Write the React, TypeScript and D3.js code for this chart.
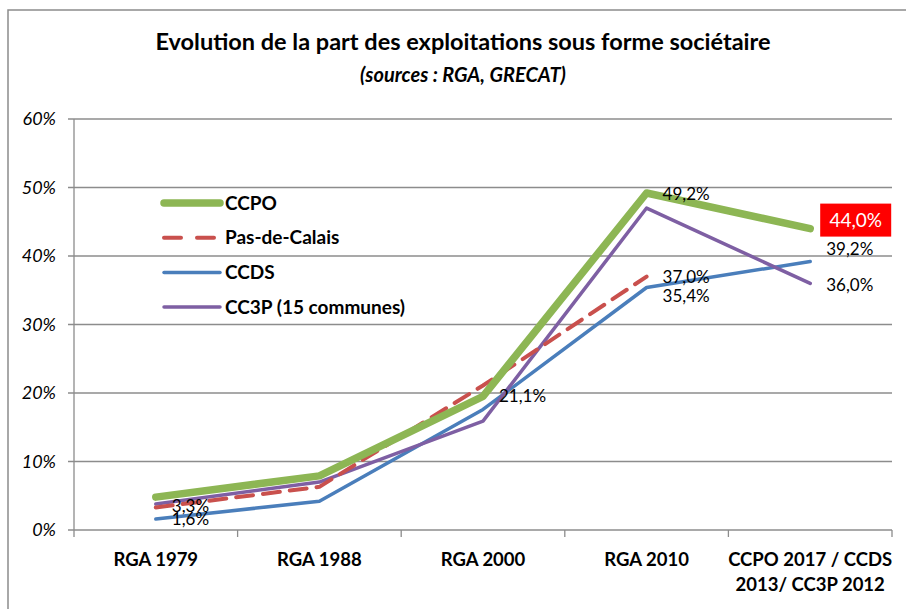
import React from "react";
import * as d3 from "d3";

const categories = ["RGA 1979", "RGA 1988", "RGA 2000", "RGA 2010", "CCPO 2017 / CCDS|2013/ CC3P 2012"];
const ccpo = [4.8, 7.9, 19.5, 49.2, 44.0];
const pasDeCalais = [3.3, 6.3, 21.1, 37.0, null];
const ccds = [1.6, 4.2, 17.6, 35.4, 39.2];
const cc3p = [3.8, 7.0, 15.9, 47.0, 36.0];
const yTicks = [0, 10, 20, 30, 40, 50, 60];

const seriesNames = ["CCPO", "Pas-de-Calais", "CCDS", "CC3P (15 communes)"];

type Lbl = { s: number; i: number; text: string; dx: number; dy: number; box?: boolean };
const labels: Lbl[] = [
  { s: 1, i: 0, text: "3,3%", dx: 16, dy: -1 },
  { s: 2, i: 0, text: "1,6%", dx: 16, dy: 0 },
  { s: 1, i: 2, text: "21,1%", dx: 16, dy: 11 },
  { s: 0, i: 3, text: "49,2%", dx: 16, dy: 1 },
  { s: 1, i: 3, text: "37,0%", dx: 16, dy: 0 },
  { s: 2, i: 3, text: "35,4%", dx: 16, dy: 8 },
  { s: 0, i: 4, text: "44,0%", dx: 13, dy: -8, box: true },
  { s: 2, i: 4, text: "39,2%", dx: 16, dy: -12 },
  { s: 3, i: 4, text: "36,0%", dx: 16, dy: 2 },
];

const W = 906, H = 609;
const left = 74, right = 892, top = 119, bottom = 530;

export default function App() {
  const data = [ccpo, pasDeCalais, ccds, cc3p];
  const x = d3.scaleBand<string>().domain(categories).range([left, right]);
  const y = d3.scaleLinear().domain([0, 60]).range([bottom, top]);
  const cx = (i: number) => (x(categories[i]) as number) + x.bandwidth() / 2;
  const line = d3
    .line<number | null>()
    .defined((d) => d !== null)
    .x((_, i) => cx(i))
    .y((d) => y(d as number));

  const styles = [
    { color: "#8DB654", width: 7.5, dash: "" },
    { color: "#C9504D", width: 4, dash: "17,10" },
    { color: "#4A7EBB", width: 3.5, dash: "" },
    { color: "#7E5FA3", width: 3.5, dash: "" },
  ];
  const drawOrder = [2, 3, 1, 0];
  const font = "Lato, 'Liberation Sans', sans-serif";
  const boundaries = d3.range(categories.length + 1).map((i) => left + i * x.step());

  return (
    <svg width={W} height={H} style={{ position: "absolute", left: 0, top: 0, fontFamily: font }}>
      <rect x={0} y={0} width={W} height={H} fill="#fff" />
      <rect x={8} y={10} width={W + 20} height={H + 20} fill="none" stroke="#8c8c8c" strokeWidth={1.5} />
      <text x={463} y={50} textAnchor="middle" fontWeight="bold" fontSize={23.5} fill="#000">
        Evolution de la part des exploitations sous forme sociétaire
      </text>
      <text x={463} y={82} textAnchor="middle" fontWeight="bold" fontStyle="italic" fontSize={20} fill="#000">
        (sources : RGA, GRECAT)
      </text>
      {yTicks.map((t) => (
        <g key={t}>
          <line x1={left - 6} x2={right} y1={y(t)} y2={y(t)} stroke="#8c8c8c" strokeWidth={1.3} />
          <text x={56} y={y(t) + 6} textAnchor="end" fontStyle="italic" fontSize={18} fill="#000">
            {t}%
          </text>
        </g>
      ))}
      <line x1={left} x2={left} y1={top} y2={bottom} stroke="#8c8c8c" strokeWidth={1.3} />
      {boundaries.map((b, i) => (
        <line key={i} x1={b} x2={b} y1={bottom} y2={bottom + 7} stroke="#8c8c8c" strokeWidth={1.3} />
      ))}
      {categories.map((c, i) => {
        const parts = c.split("|");
        return (
          <text key={c} x={cx(i)} y={566} textAnchor="middle" fontWeight="bold" fontSize={18.5} fill="#000">
            {parts.map((p, k) => (
              <tspan key={k} x={cx(i)} dy={k === 0 ? 0 : 25}>
                {p}
              </tspan>
            ))}
          </text>
        );
      })}
      {drawOrder.map((s) => (
        <path
          key={s}
          d={line(data[s] as (number | null)[]) || ""}
          fill="none"
          stroke={styles[s].color}
          strokeWidth={styles[s].width}
          strokeDasharray={styles[s].dash}
          strokeLinecap="round"
          strokeLinejoin="round"
        />
      ))}
      {labels.map((l, k) => {
        const px = cx(l.i) + l.dx;
        const py = y(data[l.s][l.i] as number) + l.dy;
        return (
          <g key={k}>
            {l.box && <rect x={px - 3} y={py - 17} width={71} height={33} fill="#FF0000" />}
            <text
              x={l.box ? px + 32.5 : px}
              y={py + 6}
              textAnchor={l.box ? "middle" : "start"}
              fontSize={l.box ? 19 : 17}
              fill={l.box ? "#fff" : "#000"}
            >
              {l.text}
            </text>
          </g>
        );
      })}
      {seriesNames.map((n, i) => {
        const ly = 203 + i * 34.7;
        return (
          <g key={n}>
            <line
              x1={164}
              x2={220}
              y1={ly}
              y2={ly}
              stroke={styles[i].color}
              strokeWidth={styles[i].width}
              strokeDasharray={i === 1 ? "17,16" : ""}
              strokeLinecap="round"
            />
            <text x={225} y={ly + 6.5} fontWeight="bold" fontSize={19} fill="#000">
              {n}
            </text>
          </g>
        );
      })}
    </svg>
  );
}
